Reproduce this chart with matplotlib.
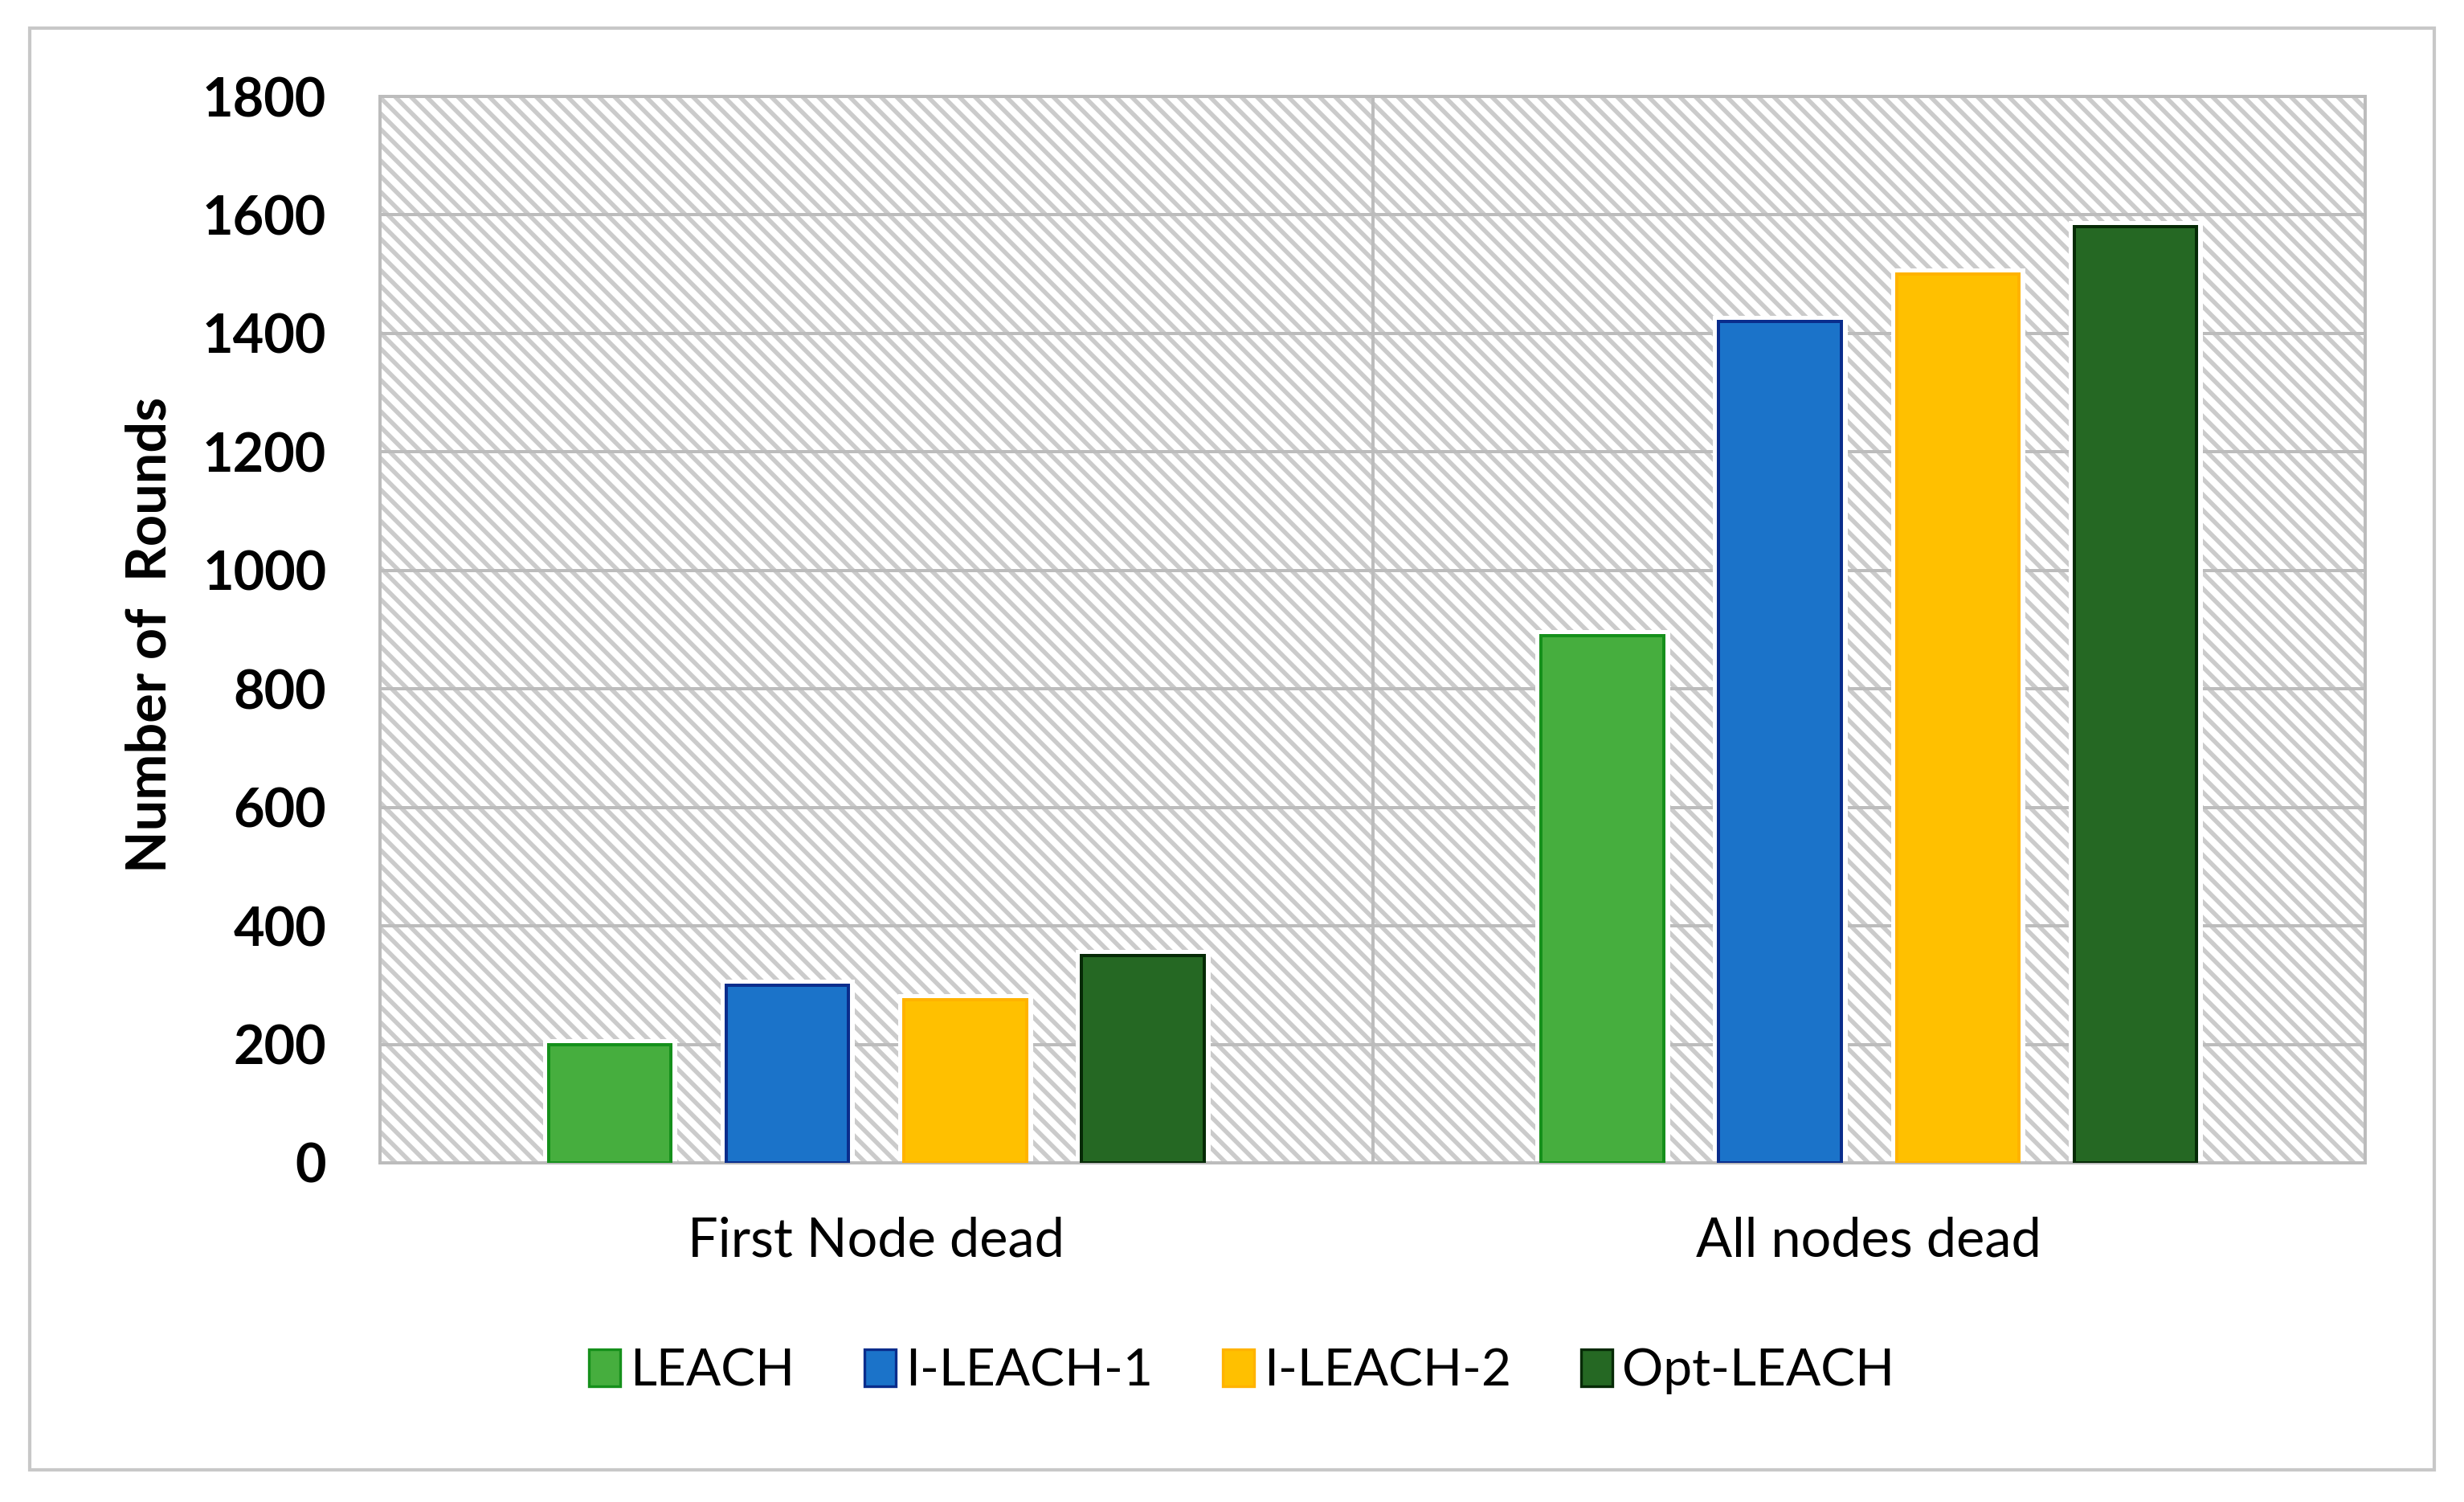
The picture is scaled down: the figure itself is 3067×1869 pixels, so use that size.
import numpy as np
import matplotlib
matplotlib.use('Agg')
import matplotlib.pyplot as plt
from matplotlib.patches import Rectangle, Patch
from matplotlib.collections import LineCollection
from matplotlib.transforms import IdentityTransform

# data
categories = ['First Node dead', 'All nodes dead']
series = ['LEACH', 'I-LEACH-1', 'I-LEACH-2', 'Opt-LEACH']
leach = [200, 890]
ileach1 = [300, 1420]
ileach2 = [275, 1500]
optleach = [350, 1580]
yticks = [0, 200, 400, 600, 800, 1000, 1200, 1400, 1600, 1800]

values = [leach, ileach1, ileach2, optleach]
fills = ['#46ae3e', '#1b73c9', '#ffc000', '#256823']
edges = ['#15901b', '#0a2d8c', '#ffb300', '#062a06']

plt.rcParams['font.family'] = ['Lato', 'DejaVu Sans']

W, H, DPI = 3067, 1869, 120
fig = plt.figure(figsize=(W / DPI, H / DPI), dpi=DPI)
ax = fig.add_axes([473 / W, 1 - 1447 / H, (2944 - 473) / W, (1447 - 120) / H])

# hatched plot area (diagonal lines, top-left to bottom-right), in pixels
ax.patch.set_facecolor('white')
x0, y0, x1, y1 = 473, H - 1447, 2944, H - 120
gap = 19.5
segs = []
for c in np.arange(x0 + y0, x1 + y1 + gap, gap):
    segs.append([(c - y0, y0), (c - y1, y1)])
hatch = LineCollection(segs, colors='#cbcbcb', linewidths=3.3,
                       transform=IdentityTransform(), zorder=0.2)
hatch.set_clip_box(ax.bbox)
ax.add_collection(hatch, autolim=False)

ax.set_axisbelow(True)
ax.yaxis.grid(True, color='#bcbcbc', lw=2.4)
ax.axvline(0.5, color='#bcbcbc', lw=2.4, zorder=0.6)

x = np.arange(len(categories))
width = 0.1235
step = 0.179
for i, name in enumerate(series):
    pos = x + (i - 1.5) * step
    # white halo round each bar
    ax.bar(pos, values[i], width, color=fills[i], edgecolor='white', lw=9, zorder=2)
    ax.bar(pos, values[i], width, color=fills[i], edgecolor=edges[i], lw=2.4, zorder=3)

ax.set_xlim(-0.5, 1.5)
ax.set_ylim(0, 1800)
ax.set_yticks(yticks)
ax.set_xticks(x)
ax.set_xticklabels(categories, fontsize=40)
for lab in ax.get_yticklabels():
    lab.set_fontsize(40)
    lab.set_fontweight('bold')
ax.tick_params(axis='y', length=0, pad=40)
ax.tick_params(axis='x', length=0, pad=40)
for s in ax.spines.values():
    s.set_color('#bcbcbc')
    s.set_linewidth(2.4)

ax.set_ylabel('Number of  Rounds', fontsize=41, fontweight='bold')
ax.yaxis.set_label_coords(-0.103, 0.495)

handles = [Patch(facecolor=fills[i], edgecolor=edges[i], lw=2) for i in range(4)]
fig.legend(handles, series, loc='center', bbox_to_anchor=(0.504, 0.087), ncol=4,
           frameon=False, fontsize=38.5, handlelength=0.6, handleheight=0.72,
           handletextpad=0.2, columnspacing=1.35)

# outer chart border
fig.patches.append(Rectangle((37 / W, 1 - 1829 / H), (3030 - 37) / W, (1829 - 35) / H,
                             transform=fig.transFigure, fill=False,
                             edgecolor='#c8c8c8', lw=2.5))

fig.savefig('out.png', dpi=DPI)
